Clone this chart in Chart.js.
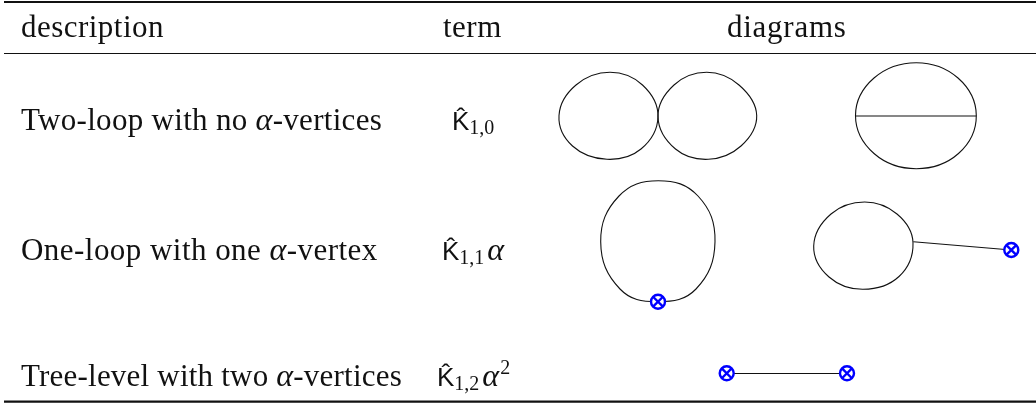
<!DOCTYPE html>
<html>
<head>
<meta charset="utf-8">
<style>
html, body { margin: 0; padding: 0; background: #fff; }
canvas { display: block; }
</style>
<script src="https://cdn.jsdelivr.net/npm/chart.js@4"></script>
</head>
<body>
<canvas id="chart" width="1036" height="403"></canvas>
<script>
const headers = ["description", "term", "diagrams"];
const descriptions = [
    ["Two-loop with no ", "α", "-vertices"],
    ["One-loop with one ", "α", "-vertex"],
    ["Tree-level with two ", "α", "-vertices"]
];
const termSymbol = "K̂";
const termSubs = ["1,0", "1,1", "1,2"];
const termAlpha = ["", "α", "α"];
const termPowers = ["", "", "2"];

const ruleY = [2, 53.5, 401.7];
const ruleWeights = [2.2, 1.2, 2.2];

const bubbleLeftX = [658, 642.5, 610, 576, 559, 572.5, 607, 641];
const bubbleLeftY = [116.7, 85, 72.3, 85, 115.5, 146, 159.3, 149];
const bubbleRightX = [658, 674, 706.7, 739, 756.7, 741, 708.3, 675.5];
const bubbleRightY = [116.7, 85, 72.3, 85, 115.5, 146, 159.3, 149];
const sunsetX = [855.5, 874, 916.3, 958, 976.3, 958.5, 916.3, 874];
const sunsetY = [115.5, 78, 62.7, 78, 115.5, 153.5, 168.7, 153.5];
const chordX = [855.7, 976.3];
const chordY = [116, 116];
const tadpoleX = [657.7, 620, 600.7, 619, 658.3, 698, 715, 696];
const tadpoleY = [301.7, 289, 241.7, 196, 180.7, 196, 241.7, 289];
const lollipopX = [913, 897, 864.7, 831, 813.7, 829, 863, 899];
const lollipopY = [242.7, 214, 202, 214, 246, 277, 289.3, 276.5];
const stickX = [913.3, 1011.3];
const stickY = [241.7, 250];
const treeX = [726.7, 847];
const treeY = [373.5, 373.5];
const vertexX = [658, 1011.3, 726.7, 847];
const vertexY = [301.7, 250, 373.3, 373.3];

const headerSpacing = [0.47, 0.5, 0.75];
const rowSpacing = [0.3, 0.46, 0.21];

function zip(xs, ys) {
    return xs.map((x, i) => ({ x, y: ys[i] }));
}

// closed loop: wrap the ends round so the spline has neighbours at the seam,
// the two extra segments stay invisible
function loop(xs, ys, tension) {
    const pts = zip(xs, ys);
    const n = pts.length;
    return {
        data: [pts[n - 1], ...pts, pts[0], pts[1]],
        showLine: true,
        borderColor: "#111",
        borderWidth: 1.1,
        pointRadius: 0,
        tension: tension || 0.39,
        fill: false,
        order: 3,
        segment: {
            borderColor: c => (c.p0DataIndex === 0 || c.p0DataIndex === n + 1) ? "rgba(0,0,0,0)" : undefined
        }
    };
}

function straight(xs, ys, width) {
    return {
        data: zip(xs, ys),
        showLine: true,
        borderColor: "#111",
        borderWidth: width || 1.1,
        pointRadius: 0,
        tension: 0,
        fill: false,
        order: 3
    };
}

const serif = '"Liberation Serif"';

// runs of text placed from left to right on one baseline
function drawRuns(ctx, x, y, runs) {
    let cx = x;
    runs.forEach(r => {
        ctx.font = r.font;
        ctx.letterSpacing = (r.spacing || 0) + "px";
        ctx.fillText(r.text, cx, y + (r.dy || 0));
        cx += ctx.measureText(r.text).width + (r.gap || 0);
    });
}

const tableText = {
    id: "tableText",
    afterDraw(chart) {
        const { ctx, scales } = chart;
        const px = v => scales.x.getPixelForValue(v);
        const py = v => scales.y.getPixelForValue(v);
        ctx.save();
        ctx.fillStyle = "#111";
        ctx.textBaseline = "alphabetic";
        ctx.textAlign = "left";

        const headerX = [21, 443, 727];
        headers.forEach((h, i) => {
            drawRuns(ctx, px(headerX[i]), py(37), [{ text: h, font: `31px ${serif}`, spacing: headerSpacing[i] }]);
        });

        const rowY = [130, 260, 386];
        descriptions.forEach((d, i) => {
            const spacing = rowSpacing[i];
            drawRuns(ctx, px(21), py(rowY[i]), [
                { text: d[0], font: `31px ${serif}`, spacing },
                { text: d[1], font: `italic 32px ${serif}`, spacing },
                { text: d[2], font: `31px ${serif}`, spacing }
            ]);
        });

        const termX = [452, 442, 437];
        termSubs.forEach((s, i) => {
            drawRuns(ctx, px(termX[i]), py(rowY[i]), [
                { text: termSymbol, font: `26px "Liberation Sans"`, gap: 0 },
                { text: s, font: `20px ${serif}`, dy: 3.5, gap: 3 },
                { text: termAlpha[i], font: `italic 32px ${serif}`, gap: 1 },
                { text: termPowers[i], font: `20px ${serif}`, dy: -12 }
            ]);
        });
        ctx.restore();
    }
};

new Chart(document.getElementById("chart"), {
    type: "scatter",
    data: {
        datasets: [
            ...ruleY.map((y, i) => straight([4, 1036], [y, y], ruleWeights[i])),
            loop(bubbleLeftX, bubbleLeftY),
            loop(bubbleRightX, bubbleRightY),
            loop(sunsetX, sunsetY),
            straight(chordX, chordY),
            loop(tadpoleX, tadpoleY, 0.42),
            loop(lollipopX, lollipopY),
            straight(stickX, stickY),
            straight(treeX, treeY),
            {
                data: zip(vertexX, vertexY),
                pointStyle: "circle",
                pointRadius: 7,
                pointBorderWidth: 2.4,
                pointBorderColor: "#0000ff",
                pointBackgroundColor: "#fff",
                order: 2
            },
            {
                data: zip(vertexX, vertexY),
                pointStyle: "crossRot",
                pointRadius: 7,
                pointBorderWidth: 2.4,
                pointBorderColor: "#0000ff",
                order: 1
            }
        ]
    },
    options: {
        responsive: false,
        animation: false,
        layout: { padding: 0, autoPadding: false },
        plugins: { legend: { display: false }, tooltip: { enabled: false }, title: { display: false } },
        scales: {
            x: { type: "linear", min: 0, max: 1036, display: false },
            y: { type: "linear", min: 0, max: 403, reverse: true, display: false }
        },
        elements: { line: { capBezierPoints: false } }
    },
    plugins: [tableText]
});
</script>
</body>
</html>
